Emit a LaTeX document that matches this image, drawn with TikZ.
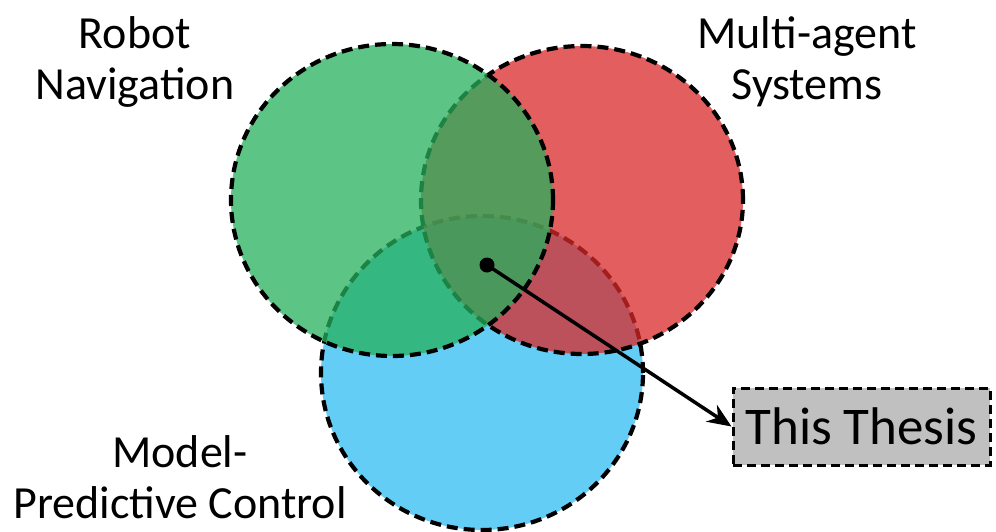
\documentclass[tikz,border=0pt]{standalone}
\usepackage{fontspec}
\setmainfont{Carlito}
\usetikzlibrary{shapes.geometric,arrows.meta}
\definecolor{cgreen}{RGB}{38,176,92}
\definecolor{cred}{RGB}{218,40,40}
\definecolor{cblue}{RGB}{48,188,242}
\definecolor{cgray}{RGB}{192,192,192}
\tikzset{
  venn/.style={ellipse, draw=black, line width=4.2pt, dash pattern=on 11pt off 6pt, fill opacity=0.75, inner sep=0pt, minimum width=322pt, minimum height=312pt},
  lbl/.style={align=center, font=\fontsize{46}{51}\selectfont, inner sep=0pt},
  thesisbox/.style={draw=black, fill=cgray, line width=3pt, dash pattern=on 9pt off 5pt, minimum width=257pt, minimum height=77pt, inner sep=0pt, font=\fontsize{53}{60}\selectfont},
  dotmark/.style={circle, fill=black, minimum size=15pt, inner sep=0pt},
  arr/.style={line width=3.5pt, -{Stealth[length=24pt, width=20pt]}}
}
\begin{document}
\begin{tikzpicture}[x=1pt,y=-1pt]
\useasboundingbox (0,0) rectangle (996,531);
\node[venn, fill=cblue, minimum height=314pt] (blue) at (482,373) {};
\node[venn, fill=cred, minimum height=308pt] (red) at (582,200) {};
\node[venn, fill=cgreen] (green) at (392,200) {};
\node[lbl] (robot) at (135,62) {Robot\\Navigation};
\node[lbl] (multi) at (807,62) {Multi-agent\\Systems};
\node[lbl] (mpc) at (180,477) {Model-\\Predictive Control};
\node[thesisbox] (thesis) at (861.5,426.5) {This Thesis};
\node[dotmark] (dot) at (487,265) {};
\draw[arr] (dot.center) -- (thesis.west);
\end{tikzpicture}
\end{document}
